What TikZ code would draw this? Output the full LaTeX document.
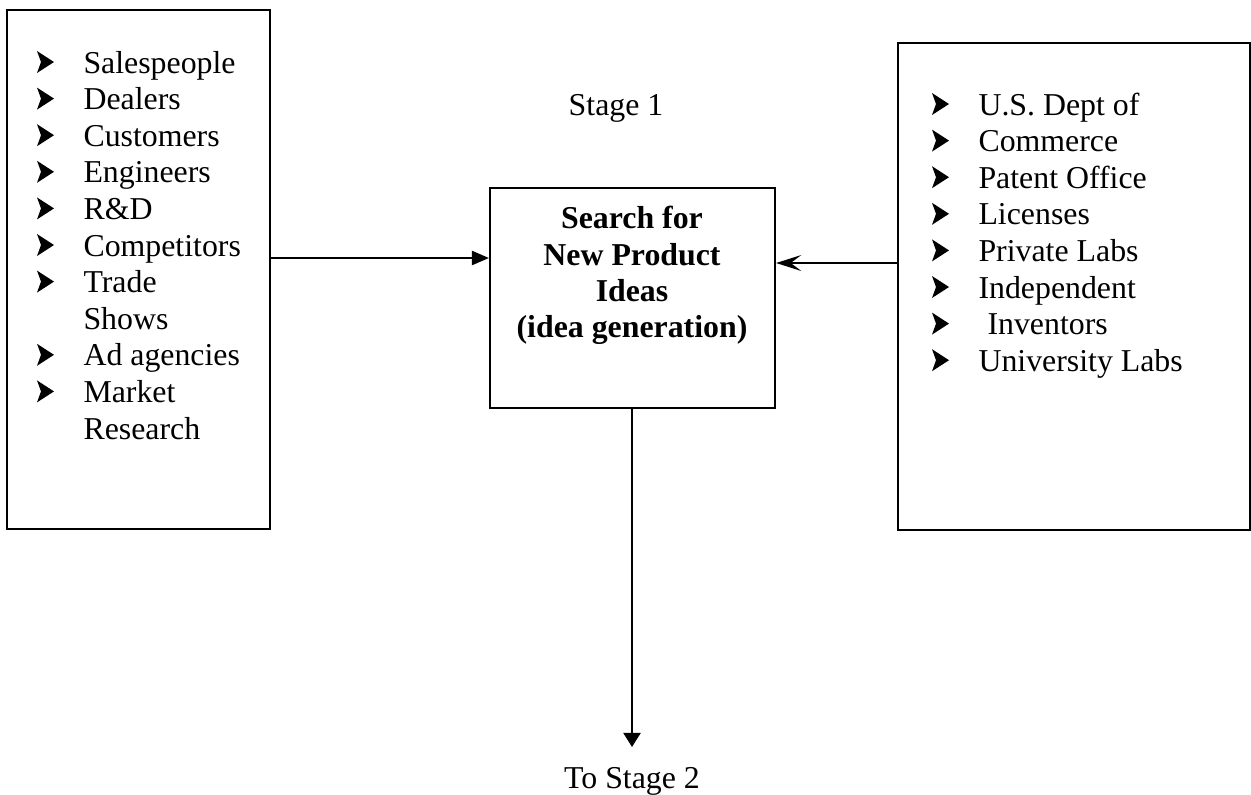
\documentclass[tikz,border=0pt]{standalone}
\usepackage{fontspec}
\setmainfont{Liberation Serif}
\usetikzlibrary{arrows.meta,fit}
\tikzset{
  box/.style={draw, line width=0.8pt, inner sep=0pt},
  conn/.style={line width=0.8pt},
  item/.style={anchor=base west, inner sep=0pt, font=\fontsize{12pt}{13.8pt}\selectfont},
  title/.style={anchor=base, inner sep=0pt, font=\fontsize{12pt}{13.8pt}\selectfont},
  boldline/.style={anchor=base, inner sep=0pt, font=\fontsize{12pt}{13.8pt}\selectfont\bfseries},
  chev/.pic={\fill (-8,-11) -- (9,0) -- (-8,11) -- (-4,0) -- cycle;}
}
\begin{document}
\begin{tikzpicture}[x=0.377pt, y=-0.377pt]
\useasboundingbox (0,0) rectangle (1251,794);
% boxes
\coordinate (L1) at (7,10);   \coordinate (L2) at (270,529);
\coordinate (R1) at (898,43); \coordinate (R2) at (1250,530);
\coordinate (C1) at (490,188);\coordinate (C2) at (775,408);
\node (lbox) [box, fit=(L1)(L2)] {};
\node (rbox) [box, fit=(R1)(R2)] {};
\node (cbox) [box, fit=(C1)(C2)] {};
% left list
\foreach \t [count=\i from 0] in {Salespeople,Dealers,Customers,Engineers,R\&D,Competitors,Trade,Shows,Ad agencies,Market,Research}{
  \node (l\i) [item] at (83,{73+36.6*\i}) {\t};
}
\foreach \i in {0,1,2,3,4,5,6,8,9}{
  \pic at (45,{62+36.6*\i}) {chev};
}
% right list
\foreach \t [count=\i from 0] in {U.S. Dept of,Commerce,Patent Office,Licenses,Private Labs,Independent}{
  \node (r\i) [item] at (978,{115+36.6*\i}) {\t};
}
\node (r6) [item] at (987,{115+36.6*6}) {Inventors};
\node (r7) [item] at (978,{115+36.6*7}) {University Labs};
\foreach \i in {0,...,7}{
  \pic at (940,{104+36.6*\i}) {chev};
}
% centre text
\node (st1) [title] at (616,115) {Stage 1};
\node (c0) [boldline] at (632,228) {Search for};
\node (c1) [boldline] at (632,265) {New Product};
\node (c2) [boldline] at (632,301) {Ideas};
\node (c3) [boldline] at (632,337) {(idea generation)};
\node (st2) [title] at (632,788) {To Stage 2};
% connectors
\coordinate (ya) at (0,258);
\coordinate (yb) at (0,263);
\coordinate (downend) at (632,747);
\draw[conn, -{Triangle[length=6.4pt,width=5.3pt]}] (lbox.east |- ya) -- (cbox.west |- ya);
\draw[conn, -{Stealth[length=9.5pt,width=6pt,inset=4pt]}] (rbox.west |- yb) -- (cbox.east |- yb);
\draw[conn, -{Triangle[length=5.3pt,width=6.4pt]}] (cbox.south -| downend) -- (downend);
\end{tikzpicture}
\end{document}
